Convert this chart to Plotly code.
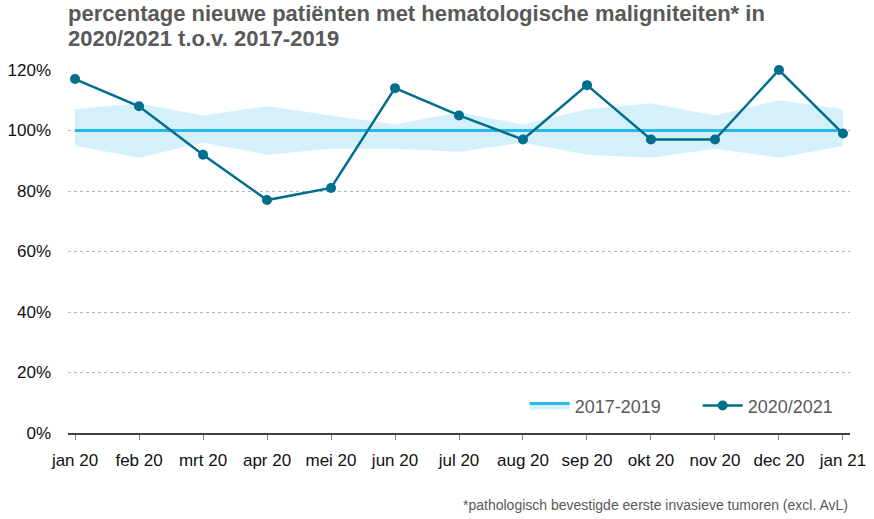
import plotly.graph_objects as go

months = ["jan 20", "feb 20", "mrt 20", "apr 20", "mei 20", "jun 20", "jul 20",
          "aug 20", "sep 20", "okt 20", "nov 20", "dec 20", "jan 21"]
values_2020 = [1.17, 1.08, 0.92, 0.77, 0.81, 1.14, 1.05, 0.97, 1.15, 0.97, 0.97, 1.20, 0.99]
band_upper = [1.07, 1.09, 1.05, 1.08, 1.05, 1.02, 1.06, 1.02, 1.07, 1.09, 1.05, 1.10, 1.07]
band_lower = [0.95, 0.91, 0.96, 0.92, 0.94, 0.94, 0.93, 0.96, 0.92, 0.91, 0.94, 0.91, 0.95]
baseline = [1.0] * len(months)
y_ticks = [0, 0.2, 0.4, 0.6, 0.8, 1.0, 1.2]
title_lines = ["percentage nieuwe patiënten met hematologische maligniteiten* in",
               "2020/2021 t.o.v. 2017-2019"]
footnote = "*pathologisch bevestigde eerste invasieve tumoren (excl. AvL)"

FONT = "Liberation Sans, Arial, sans-serif"
GREY = "#595959"
BAND = "rgba(40,180,228,0.2)"

fig = go.Figure()
fig.add_trace(go.Scatter(x=months, y=band_upper, mode="lines", line=dict(width=0),
                         showlegend=False, hoverinfo="skip"))
fig.add_trace(go.Scatter(x=months, y=baseline, mode="lines", name="2017-2019",
                         fill="tonexty", fillcolor=BAND,
                         line=dict(color="#29b8e8", width=3)))
fig.add_trace(go.Scatter(x=months, y=band_lower, mode="lines", line=dict(width=0),
                         fill="tonexty", fillcolor=BAND,
                         showlegend=False, hoverinfo="skip"))
fig.add_trace(go.Scatter(x=months, y=baseline, mode="lines", showlegend=False,
                         line=dict(color="#29b8e8", width=3), hoverinfo="skip"))
fig.add_trace(go.Scatter(x=months, y=values_2020, mode="lines+markers", name="2020/2021",
                         line=dict(color="#006e8c", width=2.5),
                         marker=dict(size=10, color="#006e8c"), cliponaxis=False))

annotations = [
    dict(text="<b>%s</b>" % line, xref="paper", yref="paper", x=0, xanchor="left",
         y=1 + (70 - yb) / 363, yanchor="bottom", yshift=-5, xshift=-2,
         showarrow=False, font=dict(size=22, color=GREY))
    for line, yb in zip(title_lines, [23, 48])
]
annotations.append(dict(text=footnote, xref="paper", yref="paper", x=1, y=-0.198,
                        xanchor="right", yanchor="middle", showarrow=False,
                        font=dict(size=14, color=GREY)))

fig.update_layout(
    width=874, height=519,
    margin=dict(l=68, r=24, t=70, b=86, autoexpand=False),
    paper_bgcolor="white", plot_bgcolor="white",
    font=dict(family=FONT, size=17, color="#111111"),
    showlegend=True,
    legend=dict(orientation="h", x=0.584, xanchor="left", y=0.075, yanchor="middle",
                traceorder="normal", itemwidth=40, entrywidth=118,
                font=dict(size=18, color=GREY), bgcolor="rgba(0,0,0,0)"),
    annotations=annotations,
)
fig.update_xaxes(type="category", range=[-0.11, 12.11], showgrid=False, automargin=False,
                 showline=True, linecolor="#404040", linewidth=1.5,
                 ticks="outside", ticklen=5, tickcolor="#808080",
                 ticklabelstandoff=6,
                 tickfont=dict(size=17, color="#111111"))
fig.update_yaxes(range=[0, 1.2], tickvals=y_ticks, tickformat=".0%", automargin=False,
                 showgrid=True, gridcolor="#b5b5b5", griddash="dot", gridwidth=1,
                 zeroline=False, showline=False, ticks="", ticklabelstandoff=16,
                 tickfont=dict(size=17, color="#111111"))

fig.write_html("out.html")
